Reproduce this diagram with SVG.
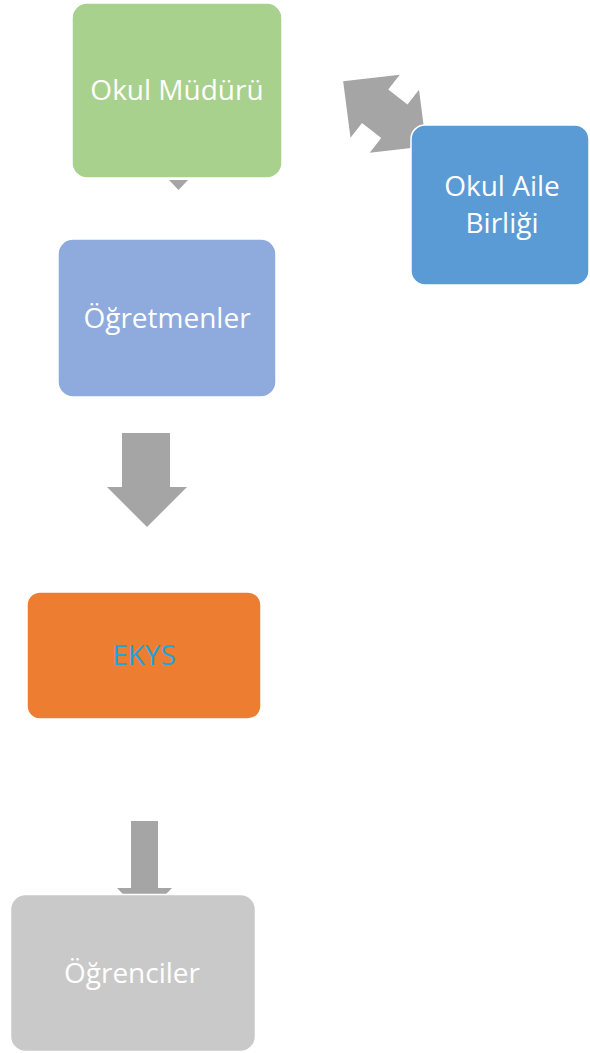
<svg xmlns="http://www.w3.org/2000/svg" width="590" height="1053" viewBox="0 0 590 1053">
<style>
.box{stroke:#fff;stroke-width:1.5}
.lbl{font-family:"Open Sans","Liberation Sans",sans-serif;font-size:28px;fill:#fff;text-anchor:middle}
.arr{fill:#a5a5a5}
</style>
<rect width="590" height="1053" fill="#fff"/>
<g id="connectors">
<polygon class="arr" points="169,180 188,180 178.5,190"/>
<polygon class="arr" transform="translate(384.75,113.75) rotate(38)" points="-52.8,0 -12.2,-40 -12.2,-21.3 12.2,-21.3 12.2,-40 52.8,0 12.2,40 12.2,21.3 -12.2,21.3 -12.2,40"/>
<polygon class="arr" points="122,433 170,433 170,487 187,487 147,527 107,487 122,487"/>
<polygon class="arr" points="131,821 158,821 158,888 172,888 144.5,916 117,888 131,888"/>
</g>
<g id="okul-muduru">
<rect class="box" x="72" y="3" width="210" height="175" rx="15" fill="#a9d18e"/>
<text class="lbl" x="177" y="100">Okul Müdürü</text>
</g>
<g id="okul-aile-birligi">
<rect class="box" x="411" y="125" width="178" height="160" rx="14" fill="#5b9bd5"/>
<text class="lbl" x="502" y="196">Okul Aile</text>
<text class="lbl" x="502" y="233">Birliği</text>
</g>
<g id="ogretmenler">
<rect class="box" x="58" y="239" width="218" height="158" rx="15" fill="#8faadc"/>
<text class="lbl" x="167" y="328">Öğretmenler</text>
</g>
<g id="ekys">
<rect class="box" x="27" y="592" width="234" height="127" rx="13" fill="#ed7d31"/>
<text class="lbl" x="144" y="665" style="fill:#1fa5de">EKYS</text>
</g>
<g id="ogrenciler">
<rect class="box" x="10.5" y="894.5" width="245" height="157" rx="15" fill="#c9c9c9"/>
<text class="lbl" x="132" y="983">Öğrenciler</text>
</g>
</svg>
